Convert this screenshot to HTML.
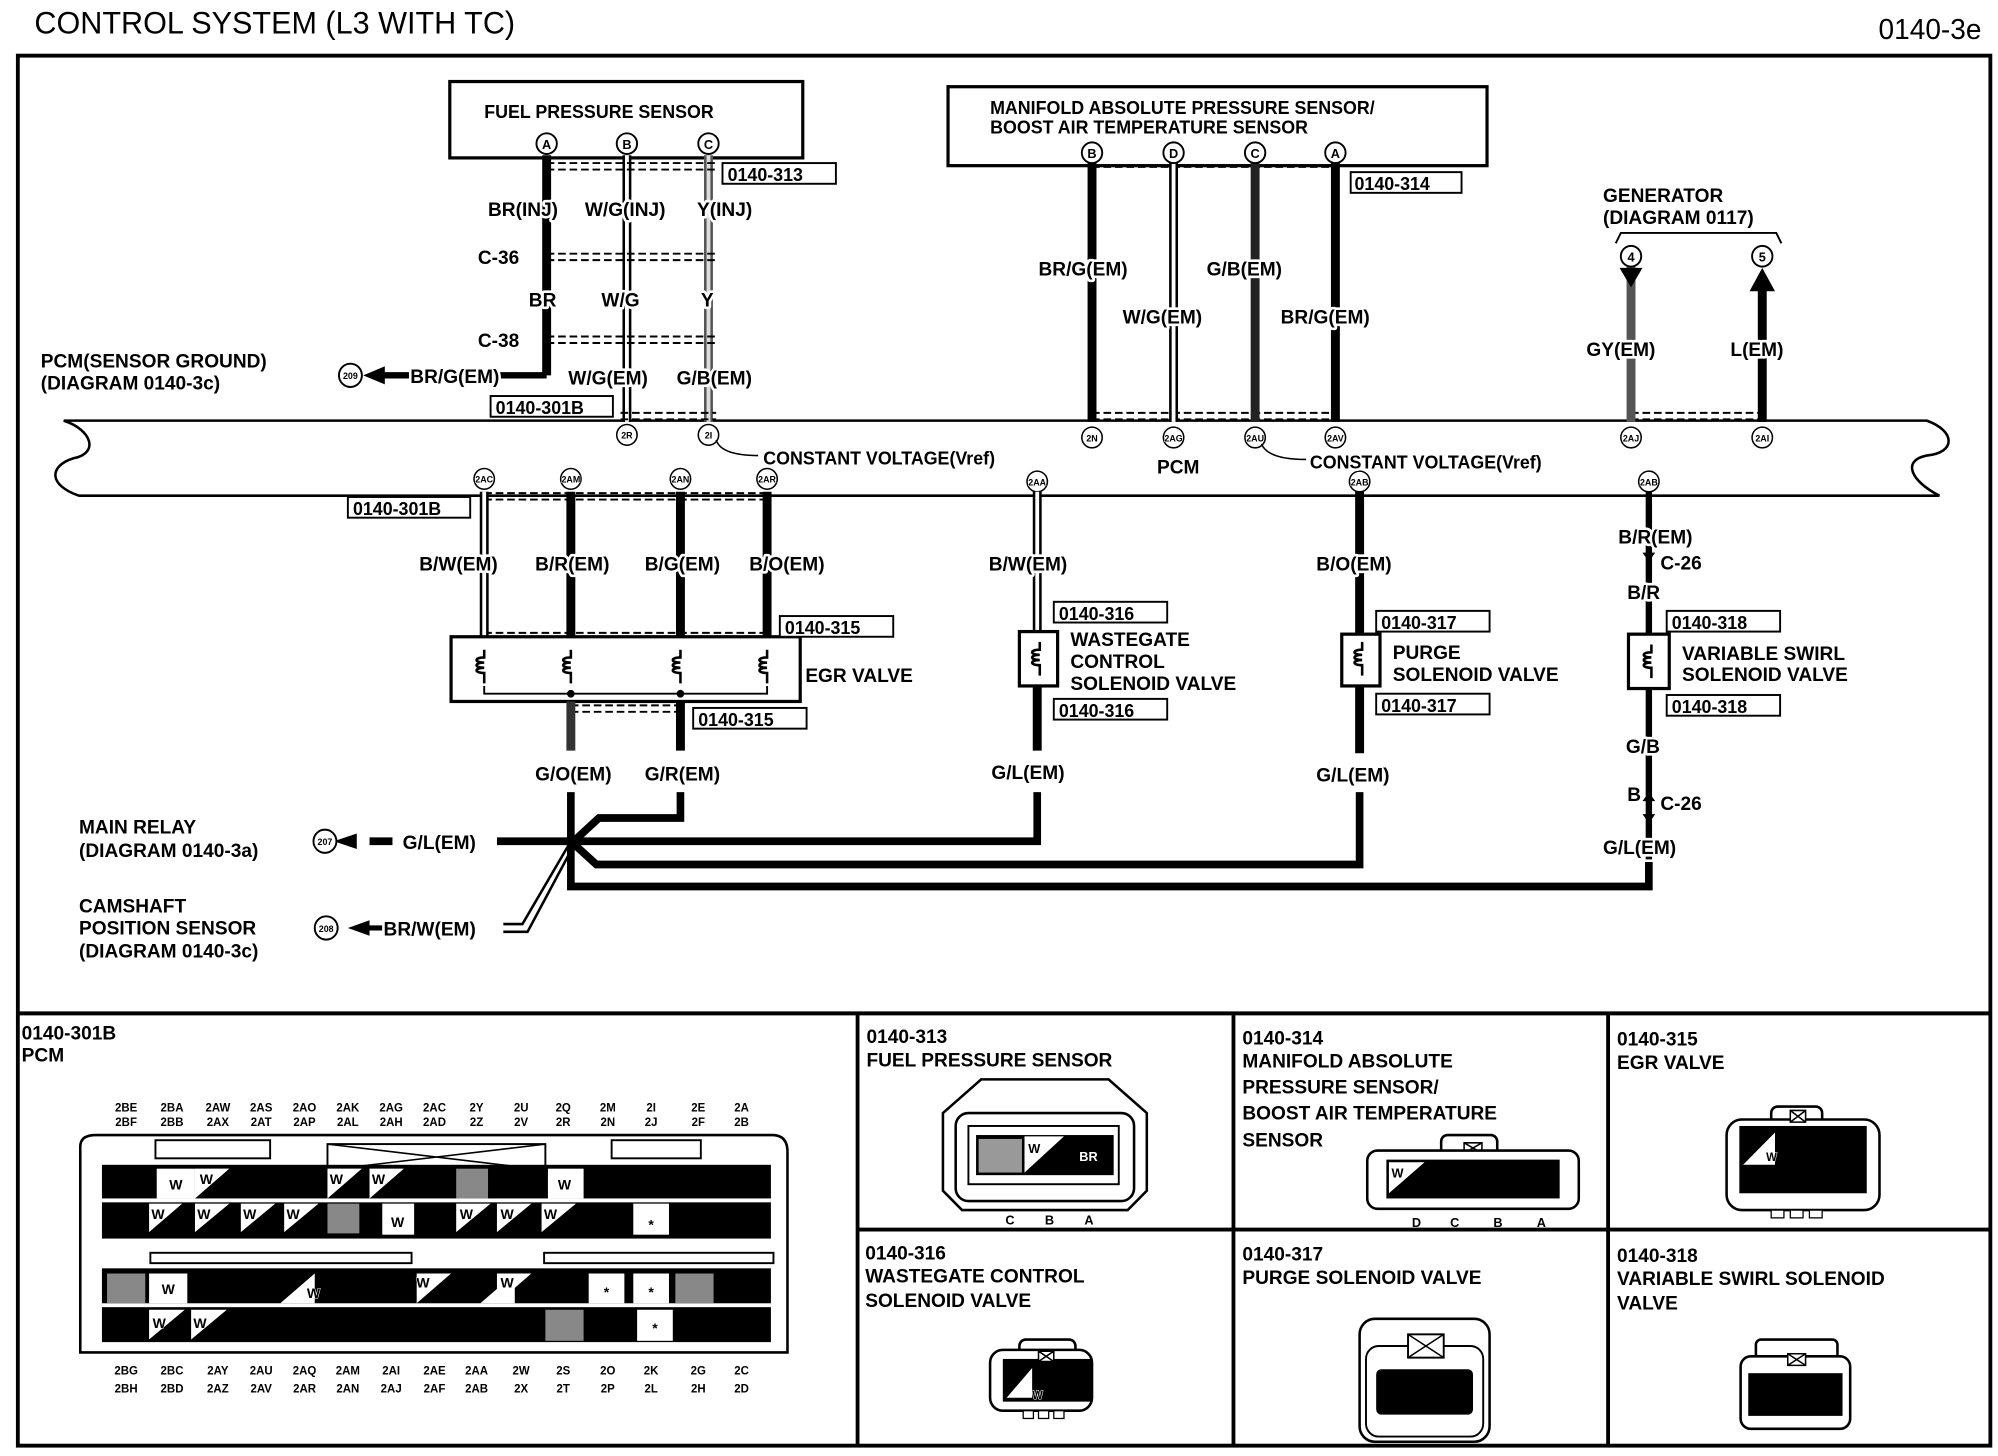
<!DOCTYPE html>
<html><head><meta charset="utf-8"><style>
html,body{margin:0;padding:0;background:#fff}
svg{display:block}
text{font-family:"Liberation Sans",sans-serif;font-weight:bold;fill:#000;paint-order:stroke;stroke:#fff;stroke-width:4px;stroke-linejoin:round}
.s text, text.s{stroke-width:0.8px}
</style></head><body>
<svg width="1998" height="1456" viewBox="0 0 1568 1125" preserveAspectRatio="none" xmlns="http://www.w3.org/2000/svg">
<defs>
<g id="coil"><path d="M0,-14 v6 c-8,0 -8,4 0,4 c-8,0 -8,4 0,4 c-8,0 -8,4 0,4 v8" fill="none" stroke="#000" stroke-width="2"/></g>
</defs>
<g font-size="15">
<text x="27" y="26" font-size="24" style="font-weight:normal">CONTROL SYSTEM (L3 WITH TC)</text>
<text x="1555" y="30" font-size="22" text-anchor="end" style="font-weight:normal">0140-3e</text>
</g>
<rect x="14" y="43" width="1548" height="1074" fill="none" stroke="#000" stroke-width="3"/>
<line x1="14" y1="783" x2="1562" y2="783" stroke="#000" stroke-width="3"/>
<line x1="673" y1="783" x2="673" y2="1117" stroke="#000" stroke-width="3"/>
<line x1="968" y1="783" x2="968" y2="1117" stroke="#000" stroke-width="3"/>
<line x1="1262" y1="783" x2="1262" y2="1117" stroke="#000" stroke-width="3"/>
<line x1="673" y1="950" x2="1562" y2="950" stroke="#000" stroke-width="3"/>

<!-- PCM bar -->
<path d="M62,325 H1512 C1535,333 1535,350 1512,352 C1492,356 1500,372 1522,383 H62 C38,375 38,360 58,354 C78,350 72,332 50,325 Z" fill="#fff" stroke="#000" stroke-width="2"/>
<text x="908" y="366" font-size="15">PCM</text>

<!-- Fuel pressure sensor -->
<rect x="353" y="63" width="277" height="59" fill="#fff" stroke="#000" stroke-width="2.5"/>
<text x="380" y="91" font-size="14">FUEL PRESSURE SENSOR</text>
<line x1="429" y1="120" x2="429" y2="290" stroke="#000" stroke-width="7"/>
<line x1="492" y1="120" x2="492" y2="326" stroke="#000" stroke-width="7"/><line x1="492" y1="120" x2="492" y2="326" stroke="#fff" stroke-width="3"/>
<line x1="556" y1="120" x2="556" y2="326" stroke="#555" stroke-width="7"/><line x1="556" y1="120" x2="556" y2="326" stroke="#ddd" stroke-width="3"/>
<g stroke="#000" stroke-width="1.5" fill="#fff"><circle cx="429" cy="111" r="8"/><circle cx="492" cy="111" r="8"/><circle cx="556" cy="111" r="8"/></g>
<g font-size="10" text-anchor="middle" class="s"><text x="429" y="115">A</text><text x="492" y="115">B</text><text x="556" y="115">C</text></g>
<g stroke="#000" stroke-width="1.5" stroke-dasharray="6,3" fill="none">
<path d="M429,126 H562 M429,131 H562"/><path d="M429,196 H562 M429,201 H562"/><path d="M429,260 H562 M429,265 H562"/><path d="M487,319 H562 M487,324 H562"/>
<path d="M380,381 H605 M380,386 H605"/><path d="M380,489 H605 M380,494 H605"/><path d="M448,545 H534 M448,550 H534"/>
<path d="M857,124 H1050 M857,129 H1050"/><path d="M857,319 H1050 M857,324 H1050"/><path d="M1280,319 H1383 M1280,324 H1383"/>
</g>
<g font-size="15">
<text x="383" y="167">BR(INJ)</text><text x="459" y="167">W/G(INJ)</text><text x="547" y="167">Y(INJ)</text>
<text x="375" y="204">C-36</text><text x="415" y="237">BR</text><text x="472" y="237">W/G</text><text x="550" y="237">Y</text>
<text x="375" y="268">C-38</text>
<text x="32" y="284">PCM(SENSOR GROUND)</text><text x="32" y="301">(DIAGRAM 0140-3c)</text>
</g>
<line x1="300" y1="290" x2="429" y2="290" stroke="#000" stroke-width="5"/>
<g font-size="15"><text x="322" y="296">BR/G(EM)</text><text x="446" y="297">W/G(EM)</text><text x="531" y="297">G/B(EM)</text></g>
<polygon points="285,290 302,283 302,297" fill="#000"/>
<circle cx="275" cy="290" r="9" fill="#fff" stroke="#000" stroke-width="1.5"/><text x="275" y="293" font-size="7" text-anchor="middle" class="s">209</text>
<g font-size="14" class="s"><rect x="567" y="126" width="89" height="16" fill="#fff" stroke="#000" stroke-width="1.5"/><text x="571" y="140">0140-313</text>
<rect x="385" y="306" width="96" height="16" fill="#fff" stroke="#000" stroke-width="1.5"/><text x="389" y="320">0140-301B</text>
<rect x="273" y="384" width="96" height="16" fill="#fff" stroke="#000" stroke-width="1.5"/><text x="277" y="398">0140-301B</text></g>

<!-- MAP sensor -->
<rect x="744" y="67" width="423" height="61" fill="#fff" stroke="#000" stroke-width="2.5"/>
<text x="777" y="88" font-size="14">MANIFOLD ABSOLUTE PRESSURE SENSOR/</text>
<text x="777" y="103" font-size="14">BOOST AIR TEMPERATURE SENSOR</text>
<line x1="857" y1="126" x2="857" y2="326" stroke="#000" stroke-width="7"/>
<line x1="921" y1="126" x2="921" y2="326" stroke="#000" stroke-width="7"/><line x1="921" y1="126" x2="921" y2="326" stroke="#fff" stroke-width="3"/>
<line x1="985" y1="126" x2="985" y2="326" stroke="#222" stroke-width="7"/>
<line x1="1048" y1="126" x2="1048" y2="326" stroke="#000" stroke-width="7"/>
<g stroke="#000" stroke-width="1.5" fill="#fff"><circle cx="857" cy="118" r="8"/><circle cx="921" cy="118" r="8"/><circle cx="985" cy="118" r="8"/><circle cx="1048" cy="118" r="8"/></g>
<g font-size="10" text-anchor="middle" class="s"><text x="857" y="122">B</text><text x="921" y="122">D</text><text x="985" y="122">C</text><text x="1048" y="122">A</text></g>
<rect x="1060" y="133" width="87" height="16" fill="#fff" stroke="#000" stroke-width="1.5"/><text x="1063" y="147" font-size="14" class="s">0140-314</text>
<g font-size="15"><text x="815" y="213">BR/G(EM)</text><text x="947" y="213">G/B(EM)</text><text x="881" y="250">W/G(EM)</text><text x="1005" y="250">BR/G(EM)</text></g>

<!-- Generator -->
<text x="1258" y="156" font-size="15">GENERATOR</text><text x="1258" y="173" font-size="15">(DIAGRAM 0117)</text>
<path d="M1268,188 L1272,180 H1394 L1398,188" fill="none" stroke="#000" stroke-width="1.5"/>
<line x1="1280" y1="205" x2="1280" y2="326" stroke="#555" stroke-width="7"/>
<line x1="1383" y1="215" x2="1383" y2="326" stroke="#000" stroke-width="7"/>
<polygon points="1271,207 1289,207 1280,222" fill="#000"/><polygon points="1373,225 1393,225 1383,207" fill="#000"/>
<circle cx="1280" cy="198" r="8" fill="#fff" stroke="#000" stroke-width="1.5"/><text x="1280" y="202" font-size="10" text-anchor="middle" class="s">4</text>
<circle cx="1383" cy="198" r="8" fill="#fff" stroke="#000" stroke-width="1.5"/><text x="1383" y="202" font-size="10" text-anchor="middle" class="s">5</text>
<text x="1245" y="275" font-size="15">GY(EM)</text><text x="1358" y="275" font-size="15">L(EM)</text>

<g stroke="#000" stroke-width="1.2" fill="#fff">
<circle cx="492" cy="336" r="8"/><circle cx="556" cy="336" r="8"/><circle cx="857" cy="338" r="8"/><circle cx="921" cy="338" r="8"/><circle cx="985" cy="338" r="8"/><circle cx="1048" cy="338" r="8"/><circle cx="1280" cy="338" r="8"/><circle cx="1383" cy="338" r="8"/>
<circle cx="380" cy="370" r="8"/><circle cx="448" cy="370" r="8"/><circle cx="534" cy="370" r="8"/><circle cx="602" cy="370" r="8"/><circle cx="814" cy="372" r="8"/><circle cx="1067" cy="372" r="8"/><circle cx="1294" cy="372" r="8"/>
</g>
<g font-size="7" text-anchor="middle" class="s">
<text x="492" y="339">2R</text><text x="556" y="339">2I</text><text x="857" y="341">2N</text><text x="921" y="341">2AG</text><text x="985" y="341">2AU</text><text x="1048" y="341">2AV</text><text x="1280" y="341">2AJ</text><text x="1383" y="341">2AI</text>
<text x="380" y="373">2AC</text><text x="448" y="373">2AM</text><text x="534" y="373">2AN</text><text x="602" y="373">2AR</text><text x="814" y="375">2AA</text><text x="1067" y="375">2AB</text><text x="1294" y="375">2AB</text>
</g>
<path d="M562,340 Q566,352 595,352" fill="none" stroke="#000" stroke-width="1.2"/><text x="599" y="359" font-size="14">CONSTANT VOLTAGE(Vref)</text>
<path d="M990,343 Q995,355 1025,355" fill="none" stroke="#000" stroke-width="1.2"/><text x="1028" y="362" font-size="14">CONSTANT VOLTAGE(Vref)</text>

<!-- lower wires -->
<line x1="380" y1="380" x2="380" y2="492" stroke="#000" stroke-width="7"/><line x1="380" y1="380" x2="380" y2="492" stroke="#fff" stroke-width="3"/>
<line x1="448" y1="380" x2="448" y2="492" stroke="#000" stroke-width="7"/>
<line x1="534" y1="380" x2="534" y2="492" stroke="#000" stroke-width="7"/>
<line x1="602" y1="380" x2="602" y2="492" stroke="#000" stroke-width="7"/>
<g font-size="15"><text x="329" y="441">B/W(EM)</text><text x="420" y="441">B/R(EM)</text><text x="506" y="441">B/G(EM)</text><text x="588" y="441">B/O(EM)</text></g>
<rect x="354" y="492" width="274" height="50" fill="#fff" stroke="#000" stroke-width="2.5"/>
<use href="#coil" x="380" y="516"/><use href="#coil" x="448" y="516"/><use href="#coil" x="534" y="516"/><use href="#coil" x="602" y="516"/>
<path d="M380,530 V536 H602 V530" fill="none" stroke="#000" stroke-width="1.5"/>
<circle cx="448" cy="536" r="3" fill="#000"/><circle cx="534" cy="536" r="3" fill="#000"/>
<text x="632" y="527" font-size="15">EGR VALVE</text>
<g font-size="14" class="s"><rect x="612" y="476" width="89" height="16" fill="#fff" stroke="#000" stroke-width="1.5"/><text x="616" y="490">0140-315</text>
<rect x="544" y="547" width="89" height="16" fill="#fff" stroke="#000" stroke-width="1.5"/><text x="548" y="561">0140-315</text></g>
<line x1="448" y1="542" x2="448" y2="580" stroke="#333" stroke-width="7"/>
<line x1="534" y1="542" x2="534" y2="580" stroke="#000" stroke-width="7"/>
<text x="420" y="603" font-size="15">G/O(EM)</text><text x="506" y="603" font-size="15">G/R(EM)</text>

<!-- wastegate -->
<line x1="814" y1="380" x2="814" y2="488" stroke="#000" stroke-width="7"/><line x1="814" y1="380" x2="814" y2="488" stroke="#fff" stroke-width="3"/>
<text x="776" y="441" font-size="15">B/W(EM)</text>
<rect x="800" y="488" width="30" height="42" fill="#fff" stroke="#000" stroke-width="2.5"/><use href="#coil" x="816" y="510"/>
<line x1="814" y1="530" x2="814" y2="580" stroke="#000" stroke-width="7"/>
<g font-size="14" class="s"><rect x="827" y="465" width="89" height="16" fill="#fff" stroke="#000" stroke-width="1.5"/><text x="831" y="479">0140-316</text>
<rect x="827" y="540" width="89" height="16" fill="#fff" stroke="#000" stroke-width="1.5"/><text x="831" y="554">0140-316</text></g>
<g font-size="15"><text x="840" y="499">WASTEGATE</text><text x="840" y="516">CONTROL</text><text x="840" y="533">SOLENOID VALVE</text></g>
<text x="778" y="602" font-size="15">G/L(EM)</text>

<!-- purge -->
<line x1="1067" y1="380" x2="1067" y2="490" stroke="#000" stroke-width="7"/>
<text x="1033" y="441" font-size="15">B/O(EM)</text>
<rect x="1053" y="490" width="30" height="40" fill="#fff" stroke="#000" stroke-width="2.5"/><use href="#coil" x="1069" y="510"/>
<line x1="1067" y1="530" x2="1067" y2="582" stroke="#000" stroke-width="7"/>
<g font-size="14" class="s"><rect x="1080" y="472" width="89" height="16" fill="#fff" stroke="#000" stroke-width="1.5"/><text x="1084" y="486">0140-317</text>
<rect x="1080" y="536" width="89" height="16" fill="#fff" stroke="#000" stroke-width="1.5"/><text x="1084" y="550">0140-317</text></g>
<g font-size="15"><text x="1093" y="509">PURGE</text><text x="1093" y="526">SOLENOID VALVE</text></g>
<text x="1033" y="604" font-size="15">G/L(EM)</text>

<!-- variable swirl -->
<line x1="1294" y1="380" x2="1294" y2="490" stroke="#000" stroke-width="5"/>
<line x1="1294" y1="532" x2="1294" y2="664" stroke="#000" stroke-width="5"/>
<path d="M1294,408 l-5,7 h10 z M1294,434 l-5,-7 h10 z M1294,612 l-5,7 h10 z M1294,636 l-5,-7 h10 z" fill="#000"/>
<g font-size="15"><text x="1270" y="420">B/R(EM)</text><text x="1303" y="440">C-26</text><text x="1277" y="463">B/R</text></g>
<rect x="1278" y="490" width="32" height="42" fill="#fff" stroke="#000" stroke-width="2.5"/><use href="#coil" x="1296" y="512"/>
<g font-size="14" class="s"><rect x="1308" y="472" width="89" height="16" fill="#fff" stroke="#000" stroke-width="1.5"/><text x="1312" y="486">0140-318</text>
<rect x="1308" y="537" width="89" height="16" fill="#fff" stroke="#000" stroke-width="1.5"/><text x="1312" y="551">0140-318</text></g>
<g font-size="15"><text x="1320" y="510">VARIABLE SWIRL</text><text x="1320" y="526">SOLENOID VALVE</text>
<text x="1276" y="582">G/B</text><text x="1277" y="619">B</text><text x="1303" y="626">C-26</text><text x="1258" y="660">G/L(EM)</text></g>

<!-- bottom bus -->
<g fill="none" stroke="#000" stroke-width="6">
<path d="M448,612 V685 H1294 V666"/>
<path d="M534,612 V632 H470 L448,652"/>
<path d="M814,612 V650 H290"/>
<path d="M1067,612 V668 H468 L448,650"/>
</g>
<polygon points="262,650 280,644 280,656" fill="#000"/>
<circle cx="255" cy="650" r="9" fill="#fff" stroke="#000" stroke-width="1.5"/><text x="255" y="653" font-size="7" text-anchor="middle" class="s">207</text>
<rect x="308" y="640" width="82" height="20" fill="#fff"/>
<text x="316" y="656" font-size="15">G/L(EM)</text>
<text x="62" y="644" font-size="15">MAIN RELAY</text><text x="62" y="662" font-size="15">(DIAGRAM 0140-3a)</text>
<path d="M448,650 L410,714 H395 M452,650 L414,720 H395" fill="none" stroke="#000" stroke-width="2"/>
<line x1="280" y1="717" x2="300" y2="717" stroke="#000" stroke-width="4"/>
<polygon points="273,717 290,711 290,723" fill="#000"/>
<circle cx="256" cy="717" r="9" fill="#fff" stroke="#000" stroke-width="1.5"/><text x="256" y="720" font-size="7" text-anchor="middle" class="s">208</text>
<text x="301" y="723" font-size="15">BR/W(EM)</text>
<g font-size="15"><text x="62" y="705">CAMSHAFT</text><text x="62" y="722">POSITION SENSOR</text><text x="62" y="740">(DIAGRAM 0140-3c)</text></g>

<!-- bottom panels -->
<g font-size="15" class="s" style="font-weight:normal">
<text x="17" y="803">0140-301B</text><text x="17" y="820">PCM</text>
<text x="680" y="806">0140-313</text><text x="680" y="824">FUEL PRESSURE SENSOR</text>
<text x="975" y="807">0140-314</text><text x="975" y="825">MANIFOLD ABSOLUTE</text><text x="975" y="845">PRESSURE SENSOR/</text><text x="975" y="865">BOOST AIR TEMPERATURE</text><text x="975" y="886">SENSOR</text>
<text x="1269" y="808">0140-315</text><text x="1269" y="826">EGR VALVE</text>
<text x="679" y="973">0140-316</text><text x="679" y="991">WASTEGATE CONTROL</text><text x="679" y="1010">SOLENOID VALVE</text>
<text x="975" y="974">0140-317</text><text x="975" y="992">PURGE SOLENOID VALVE</text>
<text x="1269" y="975">0140-318</text><text x="1269" y="993">VARIABLE SWIRL SOLENOID</text><text x="1269" y="1012">VALVE</text>
</g>

<!-- PCM connector -->
<g font-size="9" text-anchor="middle" class="s">
<text x="99" y="859">2BE</text><text x="99" y="870">2BF</text><text x="135" y="859">2BA</text><text x="135" y="870">2BB</text>
<text x="171" y="859">2AW</text><text x="171" y="870">2AX</text><text x="205" y="859">2AS</text><text x="205" y="870">2AT</text>
<text x="239" y="859">2AO</text><text x="239" y="870">2AP</text><text x="273" y="859">2AK</text><text x="273" y="870">2AL</text>
<text x="307" y="859">2AG</text><text x="307" y="870">2AH</text><text x="341" y="859">2AC</text><text x="341" y="870">2AD</text>
<text x="374" y="859">2Y</text><text x="374" y="870">2Z</text><text x="409" y="859">2U</text><text x="409" y="870">2V</text>
<text x="442" y="859">2Q</text><text x="442" y="870">2R</text><text x="477" y="859">2M</text><text x="477" y="870">2N</text>
<text x="511" y="859">2I</text><text x="511" y="870">2J</text><text x="548" y="859">2E</text><text x="548" y="870">2F</text>
<text x="582" y="859">2A</text><text x="582" y="870">2B</text>
<text x="99" y="1062">2BG</text><text x="99" y="1076">2BH</text><text x="135" y="1062">2BC</text><text x="135" y="1076">2BD</text>
<text x="171" y="1062">2AY</text><text x="171" y="1076">2AZ</text><text x="205" y="1062">2AU</text><text x="205" y="1076">2AV</text>
<text x="239" y="1062">2AQ</text><text x="239" y="1076">2AR</text><text x="273" y="1062">2AM</text><text x="273" y="1076">2AN</text>
<text x="307" y="1062">2AI</text><text x="307" y="1076">2AJ</text><text x="341" y="1062">2AE</text><text x="341" y="1076">2AF</text>
<text x="374" y="1062">2AA</text><text x="374" y="1076">2AB</text><text x="409" y="1062">2W</text><text x="409" y="1076">2X</text>
<text x="442" y="1062">2S</text><text x="442" y="1076">2T</text><text x="477" y="1062">2O</text><text x="477" y="1076">2P</text>
<text x="511" y="1062">2K</text><text x="511" y="1076">2L</text><text x="548" y="1062">2G</text><text x="548" y="1076">2H</text>
<text x="582" y="1062">2C</text><text x="582" y="1076">2D</text>
</g>
<path d="M63,1045 V886 Q63,877 75,877 H606 Q618,877 618,890 V1045 Z" fill="#fff" stroke="#000" stroke-width="2"/>
<rect x="122" y="881" width="90" height="14" fill="#fff" stroke="#000" stroke-width="1.5"/>
<rect x="257" y="884" width="171" height="20" fill="#fff" stroke="#000" stroke-width="1.5"/>
<path d="M257,884 L428,904 M257,904 L428,884" stroke="#000" stroke-width="1.2"/>
<rect x="480" y="881" width="70" height="14" fill="#fff" stroke="#000" stroke-width="1.5"/>
<rect x="80" y="900" width="525" height="57" fill="#000"/>
<rect x="80" y="980" width="525" height="57" fill="#000"/>
<rect x="80" y="926" width="525" height="3" fill="#fff"/><rect x="80" y="1007" width="525" height="3" fill="#fff"/>
<rect x="118" y="968" width="205" height="8" fill="#fff" stroke="#000" stroke-width="1.5"/>
<rect x="427" y="968" width="180" height="8" fill="#fff" stroke="#000" stroke-width="1.5"/>
<g fill="#fff">
<rect x="123" y="903" width="30" height="23"/><rect x="430" y="903" width="28" height="23"/>
<rect x="300" y="930" width="25" height="24"/><rect x="497" y="930" width="28" height="24"/>
<rect x="117" y="984" width="30" height="23"/><rect x="462" y="984" width="28" height="23"/><rect x="497" y="984" width="28" height="23"/>
<rect x="500" y="1012" width="28" height="24"/>
<polygon points="153,903 180,903 153,926"/><polygon points="257,903 284,903 257,926"/><polygon points="290,903 317,903 290,926"/>
<polygon points="117,930 143,930 117,952"/><polygon points="153,930 180,930 153,952"/><polygon points="189,930 216,930 189,952"/><polygon points="223,930 250,930 223,952"/>
<polygon points="358,930 385,930 358,952"/><polygon points="390,930 417,930 390,952"/><polygon points="425,930 452,930 425,952"/>
<polygon points="327,984 354,984 327,1007"/><polygon points="390,984 417,984 390,1007"/><polygon points="220,1007 247,984 247,1007"/><polygon points="377,1007 404,984 404,1007"/>
<polygon points="117,1012 145,1012 117,1035"/><polygon points="150,1012 178,1012 150,1035"/>
</g>
<g fill="#888"><rect x="358" y="903" width="25" height="23"/><rect x="257" y="930" width="25" height="23"/><rect x="428" y="1012" width="30" height="24"/><rect x="530" y="984" width="30" height="23"/><rect x="84" y="984" width="30" height="23"/></g>
<g font-size="11" text-anchor="middle" class="s">
<text x="138" y="919">W</text><text x="443" y="919">W</text><text x="312" y="948">W</text><text x="132" y="1000">W</text><text x="125" y="1026">W</text><text x="157" y="1026">W</text>
<text x="162" y="915">W</text><text x="264" y="915">W</text><text x="297" y="915">W</text><text x="124" y="942">W</text><text x="160" y="942">W</text><text x="196" y="942">W</text><text x="230" y="942">W</text><text x="366" y="942">W</text><text x="398" y="942">W</text><text x="432" y="942">W</text>
<text x="511" y="950">*</text><text x="476" y="1002">*</text><text x="511" y="1002">*</text><text x="514" y="1030">*</text>
<text x="246" y="1003">W</text><text x="332" y="995">W</text><text x="398" y="995">W</text>
</g>

<!-- 313 connector -->
<path d="M770,834 H870 L900,860 V920 L885,935 H755 L740,920 V860 Z" fill="#fff" stroke="#000" stroke-width="2"/>
<rect x="750" y="860" width="140" height="68" rx="10" fill="#fff" stroke="#000" stroke-width="2"/>
<rect x="760" y="870" width="118" height="45" fill="#fff" stroke="#000" stroke-width="1.5"/>
<rect x="766" y="877" width="108" height="31" fill="#000"/>
<rect x="768" y="880" width="34" height="26" fill="#999"/>
<polygon points="804,878 835,878 804,906" fill="#fff"/>
<g class="s" font-size="10"><text x="807" y="891">W</text><text x="847" y="897" style="fill:#fff;stroke:none">BR</text>
<text x="789" y="946">C</text><text x="820" y="946">B</text><text x="851" y="946">A</text></g>

<!-- 314 connector -->
<rect x="1131" y="877" width="44" height="16" rx="5" fill="#fff" stroke="#000" stroke-width="2"/>
<path d="M1149,883 h14 v8 h-14 z M1149,883 l14,8 M1163,883 l-14,8" fill="none" stroke="#000" stroke-width="1.2"/>
<rect x="1073" y="889" width="166" height="45" rx="8" fill="#fff" stroke="#000" stroke-width="2"/>
<rect x="1088" y="896" width="136" height="30" fill="#000"/>
<polygon points="1090,898 1118,898 1090,922" fill="#fff"/>
<g class="s" font-size="10"><text x="1092" y="910">W</text>
<text x="1108" y="948">D</text><text x="1138" y="948">C</text><text x="1172" y="948">B</text><text x="1206" y="948">A</text></g>

<!-- 315 connector -->
<rect x="1390" y="855" width="40" height="16" rx="5" fill="#fff" stroke="#000" stroke-width="2"/>
<rect x="1355" y="865" width="120" height="70" rx="12" fill="#fff" stroke="#000" stroke-width="2"/>
<rect x="1365" y="870" width="100" height="52" fill="#000"/>
<polygon points="1368,900 1393,875 1393,900" fill="#fff"/><text x="1386" y="897" font-size="9" class="s">W</text>
<path d="M1405,858 h12 v9 h-12 z M1405,858 l12,9 M1417,858 l-12,9" fill="#fff" stroke="#000" stroke-width="1.2"/>
<rect x="1390" y="935" width="10" height="6" fill="#fff" stroke="#000"/><rect x="1405" y="935" width="10" height="6" fill="#fff" stroke="#000"/><rect x="1420" y="935" width="10" height="6" fill="#fff" stroke="#000"/>

<!-- 316 connector -->
<rect x="800" y="1035" width="44" height="15" rx="5" fill="#fff" stroke="#000" stroke-width="2"/>
<rect x="777" y="1043" width="80" height="47" rx="10" fill="#fff" stroke="#000" stroke-width="2"/>
<rect x="787" y="1050" width="70" height="33" fill="#000"/>
<polygon points="790,1080 810,1057 810,1080" fill="#fff"/><text x="810" y="1081" font-size="9" class="s">W</text>
<path d="M815,1044 h12 v8 h-12 z M815,1044 l12,8 M827,1044 l-12,8" fill="#fff" stroke="#000" stroke-width="1.2"/>
<rect x="803" y="1090" width="8" height="6" fill="#fff" stroke="#000"/><rect x="815" y="1090" width="8" height="6" fill="#fff" stroke="#000"/><rect x="827" y="1090" width="8" height="6" fill="#fff" stroke="#000"/>

<!-- 317 connector -->
<rect x="1067" y="1019" width="102" height="95" rx="12" fill="#fff" stroke="#000" stroke-width="2"/>
<rect x="1072" y="1040" width="92" height="70" rx="10" fill="#fff" stroke="#000" stroke-width="1.5"/>
<rect x="1105" y="1031" width="28" height="18" fill="#fff" stroke="#000" stroke-width="1.5"/>
<path d="M1105,1031 l28,18 M1133,1031 l-28,18" stroke="#000" stroke-width="1.2"/>
<rect x="1080" y="1058" width="76" height="35" rx="4" fill="#000"/>

<!-- 318 connector -->
<rect x="1378" y="1035" width="64" height="20" rx="4" fill="#fff" stroke="#000" stroke-width="2"/>
<rect x="1366" y="1048" width="86" height="56" rx="8" fill="#fff" stroke="#000" stroke-width="2"/>
<rect x="1372" y="1061" width="74" height="33" fill="#000"/>
<path d="M1403,1046 h14 v9 h-14 z M1403,1046 l14,9 M1417,1046 l-14,9" fill="#fff" stroke="#000" stroke-width="1.2"/>
</svg>
</body></html>
